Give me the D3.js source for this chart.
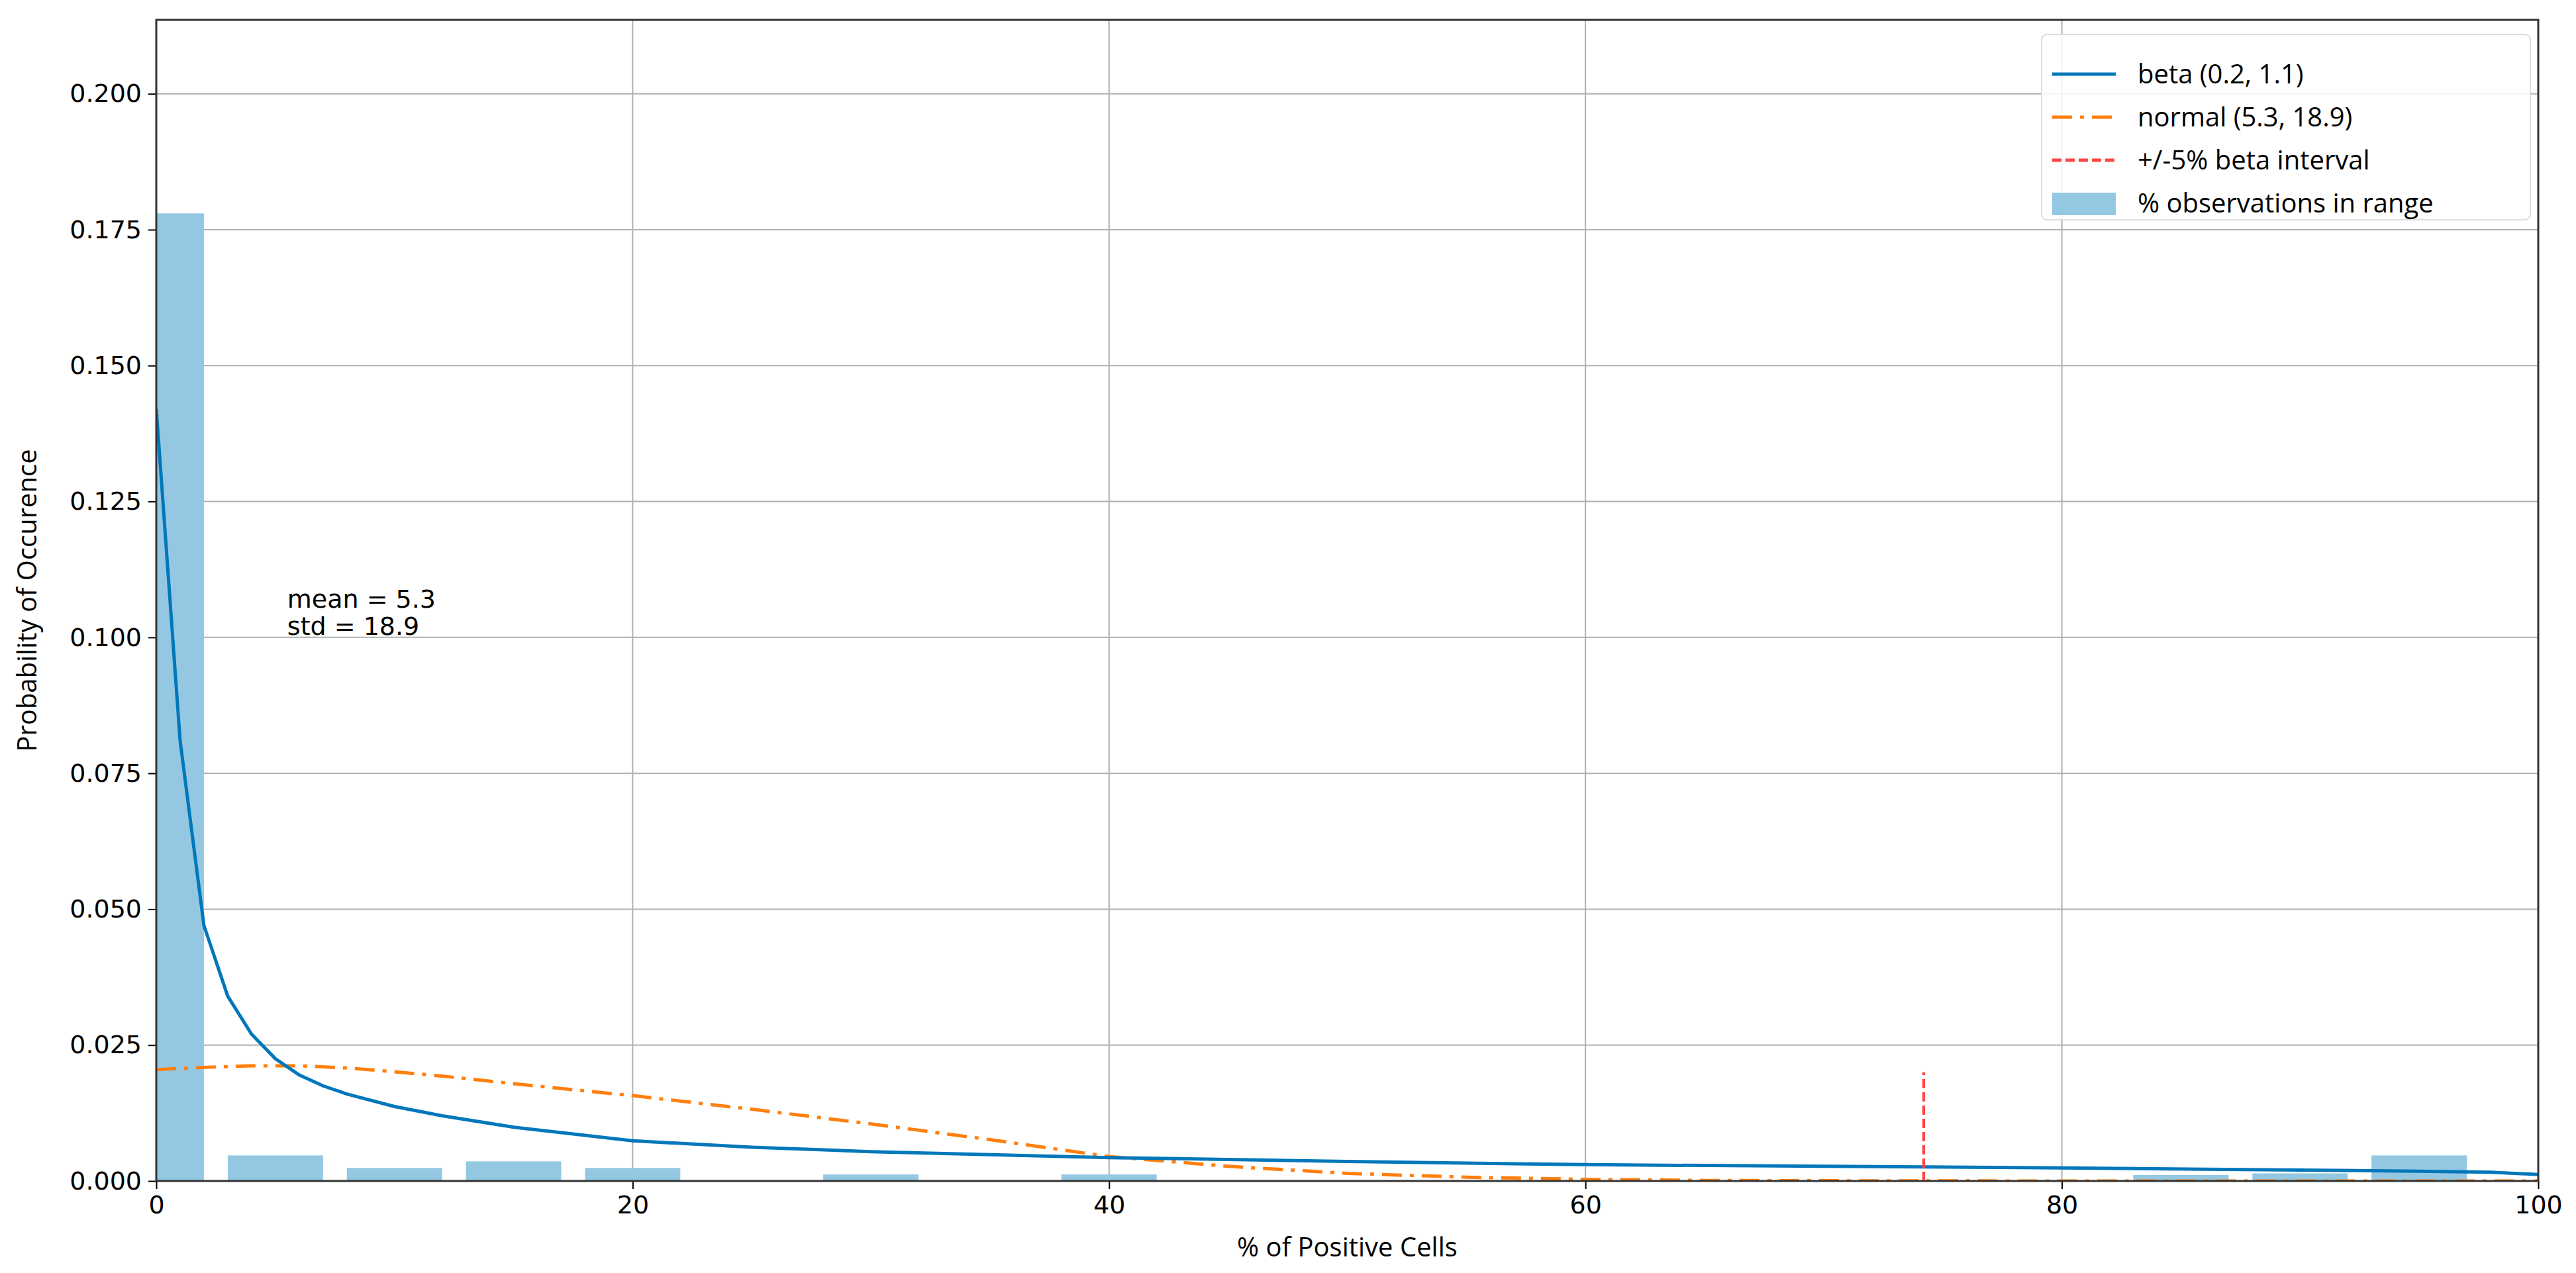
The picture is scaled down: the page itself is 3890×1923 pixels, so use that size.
<!DOCTYPE html>
<html>
<head>
<meta charset="utf-8">
<script src="https://cdn.jsdelivr.net/npm/d3@7"></script>
<style>
  body { margin: 0; background: #fff; }
  text { font-family: "DejaVu Sans", sans-serif; fill: #000; }
</style>
</head>
<body>
<div id="chart"></div>
<script>
// histogram bins (center, probability)
var binCenters = [0, 5, 10, 15, 20, 25, 30, 35, 40, 45, 50, 55, 60, 65, 70, 75, 80, 85, 90, 95];
var binValues = [0.178, 0.0047, 0.0024, 0.0036, 0.0024, 0, 0.0012, 0, 0.0012, 0, 0, 0, 0, 0, 0, 0, 0, 0.0011, 0.0014, 0.0047];

// fitted beta curve
var betaX = [0, 1, 2, 3, 4, 5, 6, 7, 8, 10, 12, 15, 20, 25, 30, 40, 50, 60, 70, 80, 90, 95, 98, 100];
var betaY = [0.142, 0.081, 0.047, 0.034, 0.027, 0.0225, 0.0195, 0.0175, 0.016, 0.0137, 0.012, 0.0099, 0.0074, 0.0062, 0.0054, 0.0043, 0.0036, 0.003, 0.0027, 0.0024, 0.002, 0.0018, 0.0016, 0.0012];

// fitted normal curve
var normX = [0, 2, 4, 6, 8, 10, 12, 15, 20, 25, 30, 35, 40, 45, 50, 55, 60, 65, 70, 80, 90, 100];
var normY = [0.0205, 0.0209, 0.0212, 0.0212, 0.0208, 0.0201, 0.0193, 0.0179, 0.0157, 0.0132, 0.0105, 0.0076, 0.0045, 0.0027, 0.0014, 0.0007, 0.0003, 0.0001, 0.00005, 0, 0, 0];

var intervalX = 74.2, intervalTop = 0.020;
var xTicks = [0, 20, 40, 60, 80, 100];
var yTicks = [0, 0.025, 0.05, 0.075, 0.1, 0.125, 0.15, 0.175, 0.2];
var legendLabels = ["beta (0.2, 1.1)", "normal (5.3, 18.9)", "+/-5% beta interval", "% observations in range"];

var W = 3890, H = 1923;
var m = {left: 236, right: 57, top: 30, bottom: 139};

var svg = d3.select('#chart').append('svg').attr('width', W).attr('height', H);
var x = d3.scaleLinear().domain([0, 100]).range([m.left, W - m.right]);
var y = d3.scaleLinear().domain([0, 0.2136]).range([H - m.bottom, m.top]);

svg.append('defs').append('clipPath').attr('id', 'clip')
  .append('rect').attr('x', m.left).attr('y', m.top)
  .attr('width', W - m.left - m.right).attr('height', H - m.top - m.bottom);

// grid
svg.append('g').selectAll('line').data(xTicks).enter().append('line')
  .attr('x1', d => x(d)).attr('x2', d => x(d)).attr('y1', m.top).attr('y2', H - m.bottom)
  .attr('stroke', '#b0b0b0').attr('stroke-width', 2);
svg.append('g').selectAll('line').data(yTicks).enter().append('line')
  .attr('y1', d => y(d)).attr('y2', d => y(d)).attr('x1', m.left).attr('x2', W - m.right)
  .attr('stroke', '#b0b0b0').attr('stroke-width', 2);

var plot = svg.append('g').attr('clip-path', 'url(#clip)');

// bars
plot.selectAll('rect.bar').data(binCenters).enter().append('rect')
  .attr('class', 'bar')
  .attr('x', d => x(d - 2)).attr('width', x(4) - x(0))
  .attr('y', (d, i) => y(binValues[i]))
  .attr('height', (d, i) => y(0) - y(binValues[i]))
  .attr('fill', '#94c8e2');

var line = d3.line().x(d => x(d[0])).y(d => y(d[1]));

plot.append('path').datum(normX.map((v, i) => [v, normY[i]]))
  .attr('d', line).attr('fill', 'none').attr('stroke', '#ff7f0e')
  .attr('stroke-width', 5).attr('stroke-dasharray', '30 12 6 12');

plot.append('path').datum(betaX.map((v, i) => [v, betaY[i]]))
  .attr('d', line).attr('fill', 'none').attr('stroke', '#0077bb').attr('stroke-width', 5);

plot.append('line')
  .attr('x1', x(intervalX)).attr('x2', x(intervalX)).attr('y1', y(0)).attr('y2', y(intervalTop))
  .attr('stroke', '#ff4444').attr('stroke-width', 4).attr('stroke-dasharray', '14 6');

// axes
var xAxis = svg.append('g').attr('transform', 'translate(0,' + (H - m.bottom) + ')')
  .call(d3.axisBottom(x).tickValues(xTicks).tickSize(12).tickPadding(10));
var yAxis = svg.append('g').attr('transform', 'translate(' + m.left + ',0)')
  .call(d3.axisLeft(y).tickValues(yTicks).tickFormat(d3.format('.3f')).tickSize(12).tickPadding(10));
[xAxis, yAxis].forEach(function (a) {
  a.select('.domain').remove();
  a.selectAll('line').attr('stroke', '#000').attr('stroke-width', 2);
  a.selectAll('text').style('font-size', '38px').style('font-family', '"DejaVu Sans", sans-serif');
});

// frame
svg.append('rect').attr('x', m.left).attr('y', m.top)
  .attr('width', W - m.left - m.right).attr('height', H - m.top - m.bottom)
  .attr('fill', 'none').attr('stroke', '#333').attr('stroke-width', 3);

// labels
svg.append('text').attr('x', (m.left + W - m.right) / 2).attr('y', 1898)
  .attr('text-anchor', 'middle').style('font-size', '40px')
  .style('font-family', '"Open Sans", sans-serif').text('% of Positive Cells');
svg.append('text').attr('transform', 'translate(55,' + ((m.top + H - m.bottom) / 2) + ') rotate(-90)')
  .attr('text-anchor', 'middle').style('font-size', '40px')
  .style('font-family', '"Open Sans", sans-serif').text('Probability of Occurence');

svg.append('text').attr('x', x(5.5)).attr('y', y(0.1055)).style('font-size', '38px').text('mean = 5.3');
svg.append('text').attr('x', x(5.5)).attr('y', y(0.1005)).style('font-size', '38px').text('std = 18.9');

// legend
var lg = svg.append('g').attr('transform', 'translate(3083,52)');
lg.append('rect').attr('width', 738).attr('height', 280).attr('rx', 8)
  .attr('fill', 'rgba(255,255,255,0.85)').attr('stroke', '#ddd').attr('stroke-width', 2);
var rowY = [60, 125, 190, 255];
lg.append('line').attr('x1', 16).attr('x2', 112).attr('y1', rowY[0]).attr('y2', rowY[0])
  .attr('stroke', '#0077bb').attr('stroke-width', 5);
lg.append('line').attr('x1', 16).attr('x2', 112).attr('y1', rowY[1]).attr('y2', rowY[1])
  .attr('stroke', '#ff7f0e').attr('stroke-width', 5).attr('stroke-dasharray', '30 12 6 12');
lg.append('line').attr('x1', 16).attr('x2', 112).attr('y1', rowY[2]).attr('y2', rowY[2])
  .attr('stroke', '#ff4444').attr('stroke-width', 5).attr('stroke-dasharray', '14 6');
lg.append('rect').attr('x', 16).attr('y', rowY[3] - 16).attr('width', 96).attr('height', 34).attr('fill', '#94c8e2');
lg.selectAll('text.lab').data(legendLabels).enter().append('text')
  .attr('x', 145).attr('y', (d, i) => rowY[i] + 14)
  .style('font-size', '40px').style('font-family', '"Open Sans", sans-serif').text(d => d);
</script>
</body>
</html>
